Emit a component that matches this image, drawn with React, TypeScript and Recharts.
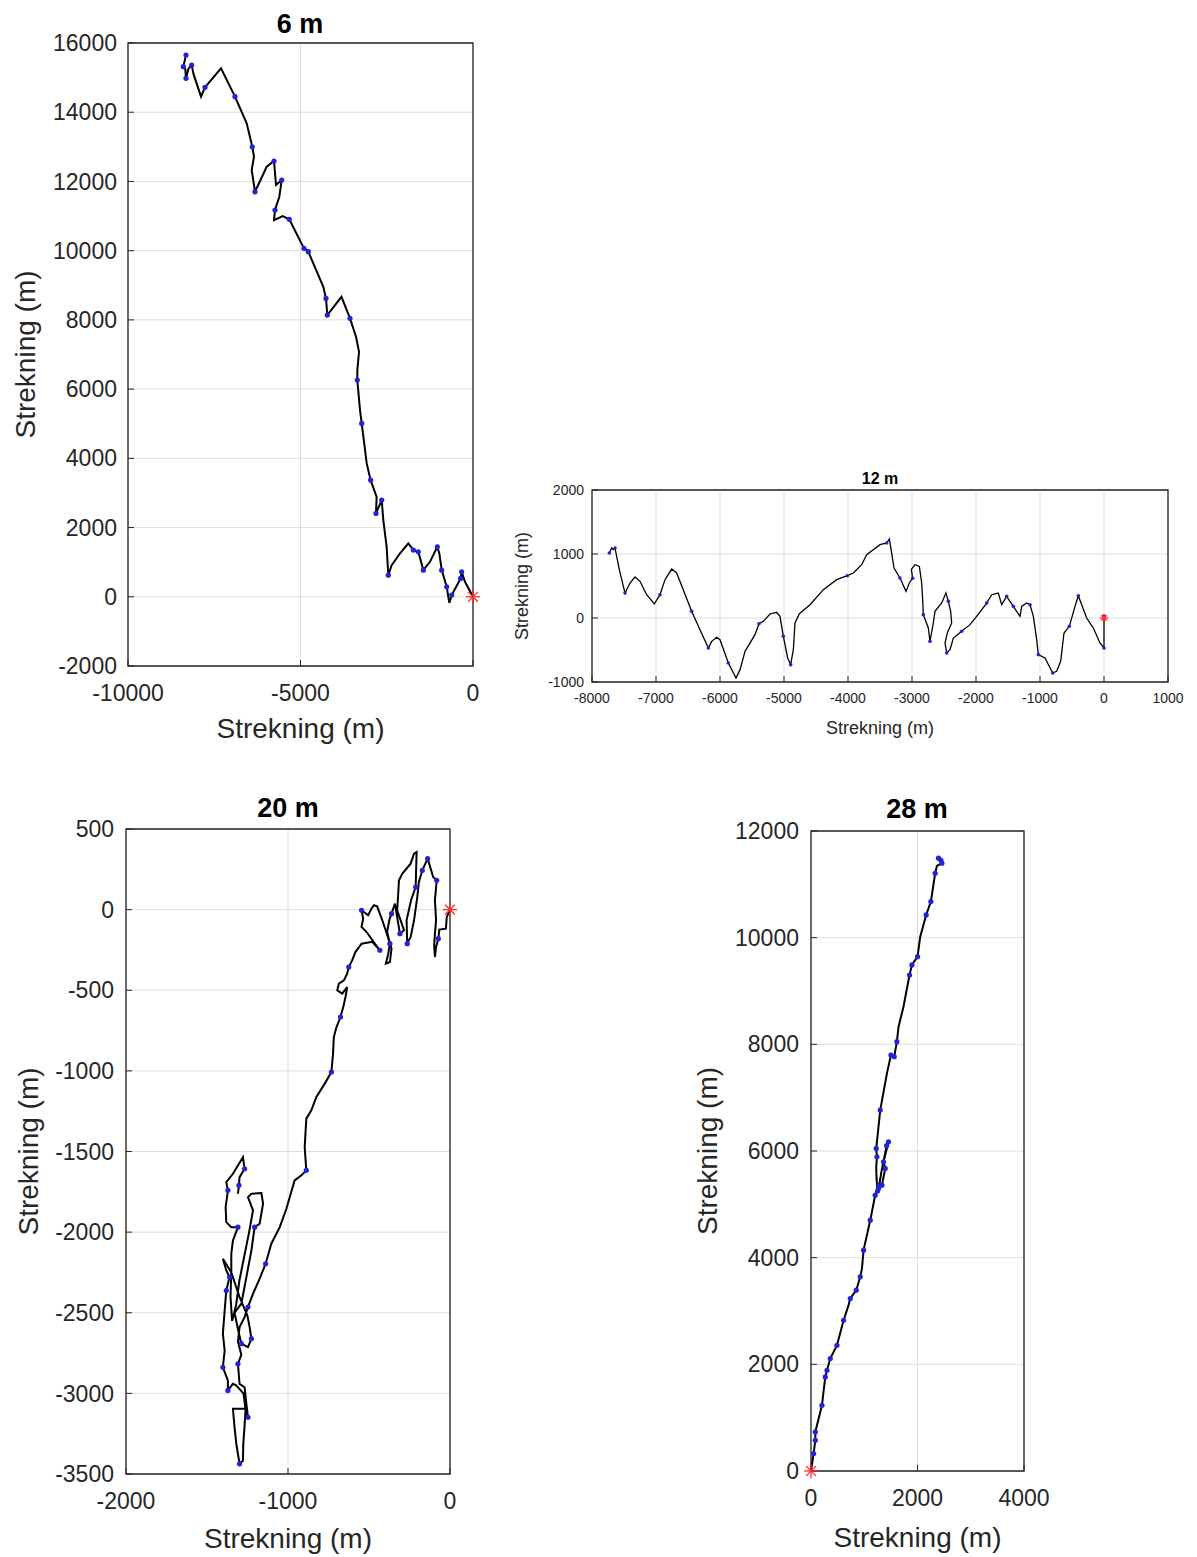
import React from 'react';
import { ScatterChart, Scatter, XAxis, YAxis, CartesianGrid, ReferenceArea } from 'recharts';

const FONT = '"Liberation Sans", Arial, Helvetica, sans-serif';
const INK = '#262626';
const GRID = '#dedede';
const BLUE = '#2222dd';
const RED = '#ff2a2a';
const AXIS_LABEL = 'Strekning (m)';
const TICK_IN = 6;

// 6 m track (start at origin)
const x6 = [0, -232, -330, -358, -617, -687, -762, -907, -976, -1034, -1246, -1440, -1585, -1730, -1874, -2116, -2357, -2455, -2503, -2600, -2646, -2812, -2793, -2968, -3081, -3226, -3275, -3353, -3353, -3304, -3391, -3565, -3812, -4223, -4261, -4339, -4774, -4899, -5325, -5516, -5768, -5739, -5614, -5545, -5710, -5768, -5980, -6319, -6415, -6348, -6397, -6560, -6899, -7304, -7768, -7884, -8100, -8154, -8250, -8319, -8340, -8397, -8319];
const y6 = [0, 433, 722, 530, 48, -176, 288, 770, 1252, 1445, 1010, 770, 1300, 1348, 1541, 1252, 914, 625, 1445, 2215, 2793, 2408, 2888, 3371, 3853, 5008, 5393, 6261, 6550, 7078, 7512, 8044, 8668, 8139, 8620, 8957, 9970, 10067, 10905, 11000, 10885, 11174, 11558, 12040, 11896, 12590, 12425, 11703, 12330, 12714, 13003, 13680, 14449, 15269, 14720, 14449, 15100, 15364, 15250, 14980, 15250, 15315, 15653];
const dots6 = [2, 3, 4, 6, 7, 9, 11, 12, 13, 17, 20, 21, 23, 25, 27, 31, 33, 34, 36, 37, 38, 41, 43, 45, 47, 50, 52, 54, 57, 59, 61, 62];

// 12 m track
const x12 = [0, 0, 0, -63, -167, -271, -401, -453, -542, -625, -677, -740, -802, -922, -1026, -1052, -1104, -1156, -1208, -1286, -1313, -1417, -1521, -1599, -1651, -1755, -1833, -1990, -2094, -2224, -2354, -2406, -2458, -2484, -2448, -2380, -2396, -2432, -2469, -2536, -2641, -2667, -2719, -2745, -2823, -2833, -2849, -2885, -2953, -3010, -2990, -3042, -3094, -3188, -3281, -3318, -3354, -3396, -3500, -3708, -3786, -3917, -4010, -4177, -4385, -4594, -4760, -4828, -4854, -4896, -4943, -5010, -5063, -5115, -5219, -5323, -5391, -5453, -5609, -5687, -5750, -5870, -6000, -6052, -6130, -6182, -6313, -6443, -6677, -6755, -6859, -6938, -7026, -7146, -7250, -7328, -7406, -7484, -7573, -7641, -7667, -7693, -7729];
const y12 = [30, -234, -469, -391, -156, 0, 348, 182, -130, -234, -677, -833, -859, -625, -573, -339, 26, 208, 234, 182, 26, 182, 338, 208, 390, 364, 234, 26, -104, -208, -313, -495, -547, -391, -234, -78, 104, 260, 390, 234, 104, -78, -365, -156, 52, 286, 547, 807, 833, 760, 620, 547, 416, 625, 781, 1016, 1234, 1172, 1146, 989, 833, 703, 661, 599, 443, 208, 68, -78, -495, -729, -625, -286, 26, 89, 63, -52, -89, -261, -521, -807, -938, -703, -339, -302, -365, -469, -182, 104, 703, 765, 599, 364, 219, 364, 573, 640, 547, 390, 755, 1094, 1068, 1094, 1016];
const dots12 = [0, 2, 6, 8, 12, 14, 17, 21, 22, 26, 29, 32, 37, 42, 44, 50, 53, 57, 62, 69, 71, 76, 81, 85, 87, 91, 97, 99, 102];

// 20 m track
const x20 = [0, -20, -25, -66, -72, -86, -93, -98, -93, -86, -93, -82, -104, -138, -171, -192, -202, -222, -243, -264, -268, -240, -212, -206, -222, -243, -294, -315, -322, -326, -305, -284, -309, -340, -361, -375, -388, -371, -381, -396, -371, -361, -390, -420, -450, -470, -485, -505, -546, -536, -546, -515, -464, -433, -480, -546, -584, -604, -625, -635, -655, -686, -696, -665, -635, -645, -659, -676, -701, -717, -722, -732, -773, -825, -856, -887, -897, -887, -917, -959, -1010, -1051, -1103, -1138, -1175, -1216, -1247, -1268, -1299, -1309, -1288, -1309, -1299, -1268, -1257, -1247, -1262, -1340, -1330, -1319, -1299, -1278, -1276, -1268, -1262, -1275, -1320, -1340, -1371, -1371, -1402, -1391, -1402, -1391, -1381, -1361, -1381, -1402, -1350, -1300, -1250, -1237, -1226, -1247, -1288, -1305, -1330, -1288, -1257, -1226, -1206, -1175, -1154, -1164, -1226, -1247, -1216, -1240, -1270, -1300, -1320, -1345, -1355, -1350, -1350, -1340, -1309, -1350, -1381, -1385, -1371, -1381, -1340, -1278, -1268, -1299, -1303, -1309];
const y20 = [0, -46, -118, -124, -180, -232, -294, -220, -149, -66, 58, 182, 202, 316, 244, 171, 78, -66, -170, -211, -66, 60, 140, 357, 347, 285, 223, 182, 58, -4, -66, -128, -149, 37, -25, -66, -139, -211, -273, -335, -325, -242, -150, -60, 20, 27, 6, -35, -4, -56, -108, -139, -211, -252, -200, -211, -263, -315, -356, -397, -439, -459, -501, -521, -480, -542, -604, -666, -730, -790, -893, -1007, -1079, -1162, -1245, -1296, -1473, -1617, -1648, -1679, -1855, -1969, -2072, -2196, -2289, -2382, -2465, -2527, -2589, -2680, -2760, -2817, -2941, -2962, -3065, -3148, -3095, -3096, -3210, -3313, -3437, -3416, -3313, -3200, -3100, -3000, -2950, -2941, -2982, -2920, -2838, -2734, -2630, -2486, -2362, -2279, -2238, -2165, -2250, -2400, -2520, -2589, -2661, -2713, -2692, -2620, -2500, -2444, -2279, -2114, -1969, -1948, -1824, -1758, -1762, -1783, -1865, -2000, -2150, -2300, -2450, -2550, -2400, -2250, -2134, -2052, -1969, -1969, -1938, -1845, -1741, -1690, -1638, -1535, -1607, -1659, -1710, -1762];
const dots20 = [4, 11, 13, 14, 19, 22, 32, 34, 37, 48, 53, 58, 67, 71, 77, 83, 86, 91, 95, 100, 108, 110, 114, 115, 122, 124, 130, 146, 150, 154, 156];

// 28 m track
const x28 = [0, 49, 81, 81, 206, 268, 300, 362, 488, 612, 706, 737, 850, 925, 957, 987, 1113, 1206, 1268, 1332, 1394, 1362, 1456, 1420, 1380, 1320, 1280, 1250, 1230, 1225, 1238, 1225, 1300, 1426, 1501, 1563, 1613, 1644, 1737, 1850, 1895, 2001, 2051, 2163, 2251, 2332, 2364, 2458, 2394, 2440];
const y28 = [0, 326, 576, 732, 1233, 1764, 1889, 2109, 2358, 2827, 3109, 3234, 3390, 3640, 3797, 4141, 4703, 5172, 5298, 5360, 5673, 5797, 6172, 6100, 5900, 5600, 5350, 5250, 5500, 5700, 5891, 6049, 6767, 7456, 7799, 7767, 8049, 8330, 8705, 9300, 9488, 9644, 10019, 10426, 10676, 11208, 11345, 11396, 11490, 11450];
const dots28 = [1, 2, 3, 4, 5, 6, 7, 8, 9, 11, 12, 13, 15, 16, 17, 18, 19, 20, 21, 22, 23, 26, 27, 30, 31, 32, 34, 35, 36, 39, 40, 41, 43, 44, 45, 47, 48, 49];

// axis ticks
const xTicks6 = [-10000, -5000, 0];
const yTicks6 = [-2000, 0, 2000, 4000, 6000, 8000, 10000, 12000, 14000, 16000];
const xTicks12 = [-8000, -7000, -6000, -5000, -4000, -3000, -2000, -1000, 0, 1000];
const yTicks12 = [-1000, 0, 1000, 2000];
const xTicks20 = [-2000, -1000, 0];
const yTicks20 = [-3500, -3000, -2500, -2000, -1500, -1000, -500, 0, 500];
const xTicks28 = [0, 2000, 4000];
const yTicks28 = [0, 2000, 4000, 6000, 8000, 10000, 12000];

type PanelProps = {
  left: number;
  top: number;
  padL: number;
  padT: number;
  padR: number;
  padB: number;
  plotW: number;
  plotH: number;
  xs: number[];
  ys: number[];
  dots: number[];
  xTicks: number[];
  yTicks: number[];
  tickFont: number;
  labelFont: number;
  xTickGap: number;
  yTickGap: number;
  xLabelOffset: number;
  yLabelX: number;
  lineWidth: number;
  dotR: number;
  starR: number;
};

const Nothing = () => <g />;

function Panel(p: PanelProps) {
  const pts = p.xs.map((x, i) => ({ x, y: p.ys[i] }));
  const dotPts = p.dots.map((i) => pts[i]);
  const xDom = [p.xTicks[0], p.xTicks[p.xTicks.length - 1]];
  const yDom = [p.yTicks[0], p.yTicks[p.yTicks.length - 1]];
  const width = p.padL + p.plotW + p.padR;
  const height = p.padT + p.plotH + p.padB;
  const tickStyle = { fill: INK, fontSize: p.tickFont, fontFamily: FONT };
  const tickLine = { stroke: INK, strokeWidth: 1 };

  const dot = (props: any) => <circle cx={props.cx} cy={props.cy} r={p.dotR} fill={BLUE} />;
  const star = (props: any) => {
    const { cx, cy } = props;
    const r = p.starR;
    const d = r * 0.7;
    return (
      <g stroke={RED} strokeWidth={1.3}>
        <line x1={cx - r} y1={cy} x2={cx + r} y2={cy} />
        <line x1={cx} y1={cy - r} x2={cx} y2={cy + r} />
        <line x1={cx - d} y1={cy - d} x2={cx + d} y2={cy + d} />
        <line x1={cx - d} y1={cy + d} x2={cx + d} y2={cy - d} />
      </g>
    );
  };

  return (
    <div style={{ position: 'absolute', left: p.left, top: p.top }}>
      <ScatterChart width={width} height={height} margin={{ top: p.padT, right: p.padR, bottom: 0, left: 0 }}>
        <CartesianGrid stroke={GRID} strokeWidth={1} />
        <XAxis
          type="number"
          dataKey="x"
          domain={xDom}
          ticks={p.xTicks}
          interval={0}
          height={p.padB}
          tickSize={-TICK_IN}
          tickMargin={p.xTickGap + TICK_IN}
          axisLine={false}
          tickLine={tickLine}
          tick={tickStyle}
          label={{
            value: AXIS_LABEL,
            position: 'insideBottom',
            offset: p.xLabelOffset,
            fill: INK,
            fontSize: p.labelFont,
            fontFamily: FONT,
          }}
        />
        <XAxis
          xAxisId="top"
          orientation="top"
          type="number"
          domain={xDom}
          ticks={p.xTicks}
          interval={0}
          height={0}
          tickSize={-TICK_IN}
          axisLine={false}
          tickLine={tickLine}
          tick={false}
        />
        <YAxis
          type="number"
          dataKey="y"
          domain={yDom}
          ticks={p.yTicks}
          interval={0}
          width={p.padL}
          tickSize={-TICK_IN}
          tickMargin={p.yTickGap + TICK_IN}
          axisLine={false}
          tickLine={tickLine}
          tick={tickStyle}
          label={{
            value: AXIS_LABEL,
            angle: -90,
            position: 'insideLeft',
            offset: p.yLabelX,
            fill: INK,
            fontSize: p.labelFont,
            fontFamily: FONT,
            style: { textAnchor: 'middle' },
          }}
        />
        <YAxis
          yAxisId="right"
          orientation="right"
          type="number"
          domain={yDom}
          ticks={p.yTicks}
          interval={0}
          width={0}
          tickSize={-TICK_IN}
          axisLine={false}
          tickLine={tickLine}
          tick={false}
        />
        <ReferenceArea
          x1={xDom[0]}
          x2={xDom[1]}
          y1={yDom[0]}
          y2={yDom[1]}
          fill="none"
          fillOpacity={0}
          stroke={INK}
          strokeWidth={1.3}
        />
        <Scatter
          data={pts}
          fill="#000"
          line={{ stroke: '#000', strokeWidth: p.lineWidth, fill: 'none' }}
          shape={Nothing}
          isAnimationActive={false}
        />
        <Scatter data={dotPts} fill={BLUE} shape={dot} isAnimationActive={false} />
        <Scatter data={[{ x: 0, y: 0 }]} fill={RED} shape={star} isAnimationActive={false} />
      </ScatterChart>
    </div>
  );
}

export default function App() {
  return (
    <div style={{ position: 'absolute', left: 0, top: 0, width: 1197, height: 1557, background: '#fff' }}>
      <Panel
        left={0} top={0} padL={128} padT={43} padR={27} padB={94} plotW={345} plotH={623}
        xs={x6} ys={y6} dots={dots6} xTicks={xTicks6} yTicks={yTicks6}
        tickFont={23} labelFont={28} xTickGap={19} yTickGap={11} xLabelOffset={22} yLabelX={25}
        lineWidth={2} dotR={2.6} starR={7}
      />
      <Panel
        left={500} top={460} padL={92} padT={30} padR={29} padB={78} plotW={576} plotH={192}
        xs={x12} ys={y12} dots={dots12} xTicks={xTicks12} yTicks={yTicks12}
        tickFont={14} labelFont={18} xTickGap={11} yTickGap={8} xLabelOffset={26} yLabelX={22}
        lineWidth={1.3} dotR={1.8} starR={4}
      />
      <Panel
        left={0} top={780} padL={126} padT={49} padR={50} padB={83} plotW={324} plotH={645}
        xs={x20} ys={y20} dots={dots20} xTicks={xTicks20} yTicks={yTicks20}
        tickFont={23} labelFont={28} xTickGap={19} yTickGap={12} xLabelOffset={9} yLabelX={28}
        lineWidth={2} dotR={2.6} starR={7}
      />
      <Panel
        left={680} top={780} padL={131} padT={51} padR={173} padB={86} plotW={213} plotH={640}
        xs={x28} ys={y28} dots={dots28} xTicks={xTicks28} yTicks={yTicks28}
        tickFont={23} labelFont={28} xTickGap={19} yTickGap={12} xLabelOffset={10} yLabelX={27}
        lineWidth={2} dotR={2.6} starR={7}
      />
      <svg
        width={1197}
        height={1557}
        style={{ position: 'absolute', left: 0, top: 0, pointerEvents: 'none' }}
      >
        <g fontFamily={FONT} fontWeight="bold" fill="#000" textAnchor="middle">
          <text x={300} y={33} fontSize={27}>6 m</text>
          <text x={880} y={484} fontSize={16}>12 m</text>
          <text x={288} y={817} fontSize={27}>20 m</text>
          <text x={917} y={818} fontSize={27}>28 m</text>
        </g>
      </svg>
    </div>
  );
}
